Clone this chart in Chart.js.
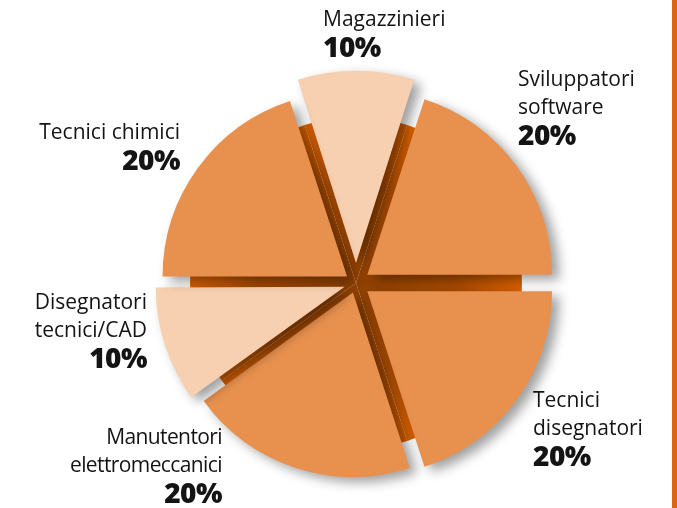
<!DOCTYPE html>
<html>
<head>
<meta charset="utf-8">
<script src="https://cdn.jsdelivr.net/npm/chart.js@4.4.1/dist/chart.umd.min.js"></script>
<style>
  html, body { margin: 0; padding: 0; background: #ffffff; }
  #stage { position: relative; width: 677px; height: 508px; overflow: hidden; background: #fff; }
  .pie { position: absolute; left: 136px; top: 63px; width: 440px; height: 440px; }
  .bar { position: absolute; left: 672px; top: 0; width: 5px; height: 508px; background: #DF6410; }
  .lbl { position: absolute; font-family: "Open Sans", sans-serif; color: #141414; white-space: nowrap; }
  .lbl .t { font-size: 21px; line-height: 28px; }
  .lbl .p { font-size: 28px; line-height: 28px; font-weight: 800; letter-spacing: -0.5px; }
  .lbl .n { letter-spacing: -0.6px; }
</style>
</head>
<body>
<div id="stage">
  <div class="pie"><canvas id="under"></canvas></div>
  <div class="pie"><canvas id="top"></canvas></div>
  <div class="bar"></div>
</div>
<script>
const categories = ['Magazzinieri', 'Sviluppatori software', 'Tecnici disegnatori', 'Manutentori elettromeccanici', 'Disegnatori tecnici/CAD', 'Tecnici chimici'];
const values = [10, 20, 20, 20, 10, 20];
const labelLines = [['Magazzinieri'], ['Sviluppatori', 'software'], ['Tecnici', 'disegnatori'], ['Manutentori', 'elettromeccanici'], ['Disegnatori', 'tecnici/CAD'], ['Tecnici chimici']];

// layout of label blocks (pixel positions on the page)
const labelPos = [
  { x: 323, y: 4, align: 'left', narrow: false },
  { x: 518, y: 64, align: 'left', narrow: false },
  { x: 533, y: 385, align: 'left', narrow: false },
  { x: 222, y: 422, align: 'right', narrow: true },
  { x: 147, y: 287, align: 'right', narrow: false },
  { x: 180, y: 117, align: 'right', narrow: false }
];
const sliceColors = ['#F6D0B0', '#E8914F', '#E8914F', '#E8914F', '#F6D0B0', '#E8914F'];
// Chart.js v4 draws arcs translated by offset/4
const sliceOffsets = [80, 56, 56, 40, 48, 44];

const stage = document.getElementById('stage');
categories.forEach((c, i) => {
  const d = document.createElement('div');
  d.className = 'lbl';
  d.style.top = labelPos[i].y + 'px';
  d.style.textAlign = labelPos[i].align;
  if (labelPos[i].align === 'left') d.style.left = labelPos[i].x + 'px';
  else d.style.right = (677 - labelPos[i].x) + 'px';
  labelLines[i].forEach(l => {
    const s = document.createElement('div'); s.className = 't' + (labelPos[i].narrow ? ' n' : ''); s.textContent = l; d.appendChild(s);
  });
  const p = document.createElement('div'); p.className = 'p'; p.textContent = values[i] + '%'; d.appendChild(p);
  stage.appendChild(d);
});

const baseOpts = {
  responsive: true,
  maintainAspectRatio: false,
  animation: false,
  rotation: -18,
  plugins: { legend: { display: false }, tooltip: { enabled: false } },
  layout: { padding: 0 }
};

function darkSide(context) {
  const chart = context.chart;
  const a = chart.chartArea;
  if (!a) return '#A94C00';
  const cx = (a.left + a.right) / 2, cy = (a.top + a.bottom) / 2;
  const g = chart.ctx.createRadialGradient(cx, cy, 0, cx, cy, 168);
  g.addColorStop(0, '#8E4000');
  g.addColorStop(0.6, '#A84A00');
  g.addColorStop(1, '#DC6200');
  return g;
}

new Chart(document.getElementById('under'), {
  type: 'pie',
  data: { labels: categories, datasets: [{ data: values, backgroundColor: darkSide, borderWidth: 0 }] },
  options: Object.assign({}, baseOpts, { radius: 166 })
});

const shadowPlugin = {
  id: 'shadow',
  beforeDatasetsDraw(chart) {
    const ctx = chart.ctx;
    ctx.save();
    ctx.shadowColor = 'rgba(0,0,0,0.38)';
    ctx.shadowBlur = 12;
    ctx.shadowOffsetX = 7;
    ctx.shadowOffsetY = 5;
  },
  afterDatasetsDraw(chart) { chart.ctx.restore(); }
};

new Chart(document.getElementById('top'), {
  type: 'pie',
  data: { labels: categories, datasets: [{ data: values, backgroundColor: sliceColors, borderWidth: 0, offset: sliceOffsets }] },
  options: Object.assign({}, baseOpts, { radius: 184 }),
  plugins: [shadowPlugin]
});
</script>
</body>
</html>
